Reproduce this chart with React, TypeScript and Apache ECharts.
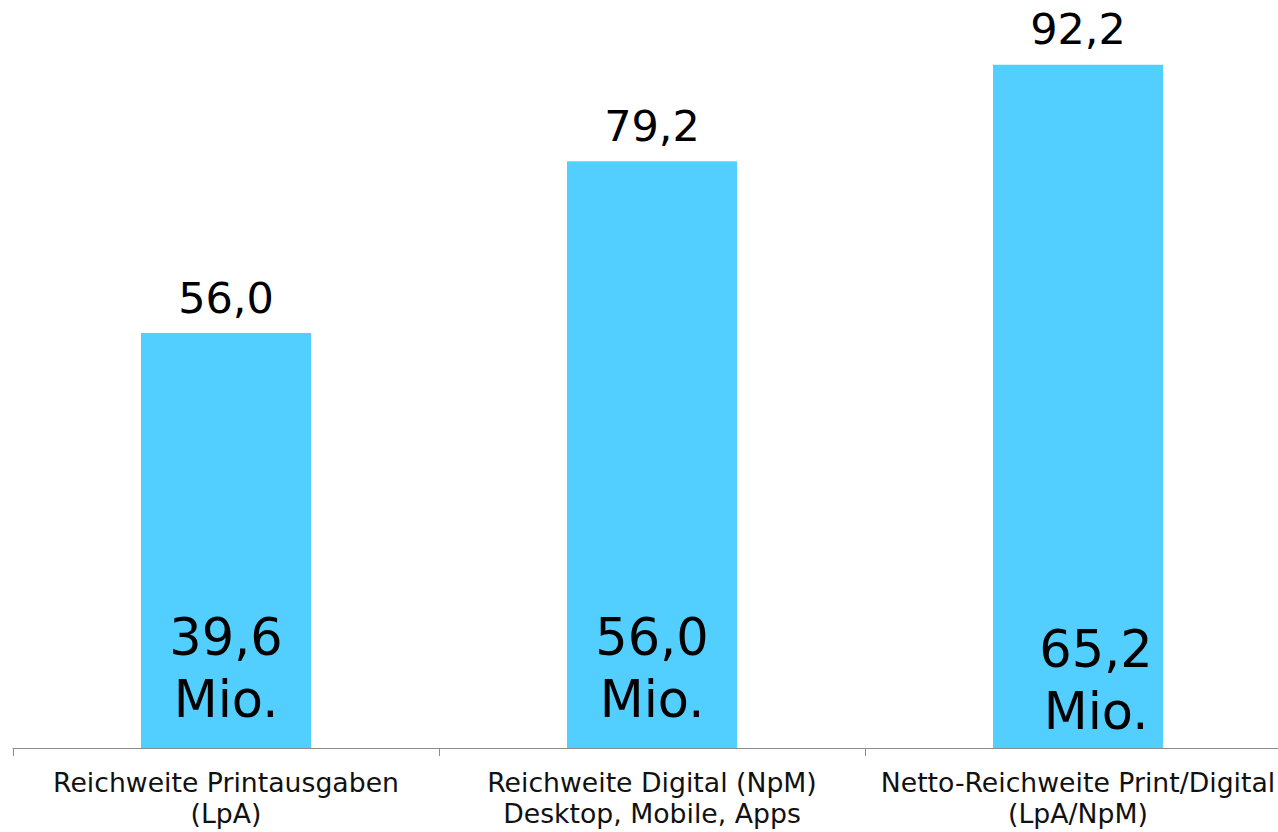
import React, { useEffect, useRef } from "react";
import * as echarts from "echarts";

const categories = [
  "Reichweite Printausgaben\n(LpA)",
  "Reichweite Digital (NpM)\nDesktop, Mobile, Apps",
  "Netto-Reichweite Print/Digital\n(LpA/NpM)",
];
const values = [56.0, 79.2, 92.2];
const innerLabels = ["39,6\nMio.", "56,0\nMio.", "65,2\nMio."];

const fmt = (v: number) => v.toFixed(1).replace(".", ",");

export default function App() {
  const ref = useRef<HTMLDivElement>(null);
  useEffect(() => {
    if (!ref.current) return;
    const chart = echarts.init(ref.current, undefined, { renderer: "svg" });
    const font = "'DejaVu Sans', Verdana, sans-serif";
    chart.setOption({
      animation: false,
      grid: { left: 13, width: 1278, top: 7, bottom: 84, containLabel: false },
      xAxis: {
        type: "category",
        data: categories,
        boundaryGap: true,
        axisLine: { show: true, lineStyle: { color: "#8c8c8c", width: 1 } },
        axisTick: { show: true, length: 8, lineStyle: { color: "#8c8c8c" } },
        axisLabel: {
          interval: 0,
          hideOverlap: false,
          color: "#111",
          fontFamily: font,
          fontSize: 26.7,
          lineHeight: 31,
          margin: 19,
        },
      },
      yAxis: {
        type: "value",
        min: 0,
        max: 100,
        show: false,
        splitLine: { show: false },
      },
      series: [
        {
          type: "bar",
          data: values.map((v) => ({ value: v })),
          barWidth: 170,
          itemStyle: { color: "#53CFFF" },
          label: {
            show: true,
            position: "top",
            distance: 14,
            formatter: (p: any) => fmt(p.value),
            color: "#000",
            fontFamily: font,
            fontSize: 43,
            lineHeight: 43,
          },
        },
        {
          type: "bar",
          data: values.map((v, i) => ({
            value: v,
            label: i === 2 ? { offset: [18, 12] } : undefined,
          })),
          barWidth: 170,
          barGap: "-100%",
          itemStyle: { color: "transparent" },
          silent: true,
          label: {
            show: true,
            position: "insideBottom",
            distance: 18,
            formatter: (p: any) => innerLabels[p.dataIndex],
            color: "#000",
            fontFamily: font,
            fontSize: 51,
            lineHeight: 62,
            align: "center",
          },
        },
      ],
    });
    return () => chart.dispose();
  }, []);
  return (
    <div
      style={{
        position: "fixed",
        left: 0,
        top: 0,
        width: 1278,
        height: 832,
        overflow: "hidden",
        background: "#fff",
      }}
    >
      <div ref={ref} style={{ width: 1300, height: 832 }} />
    </div>
  );
}
